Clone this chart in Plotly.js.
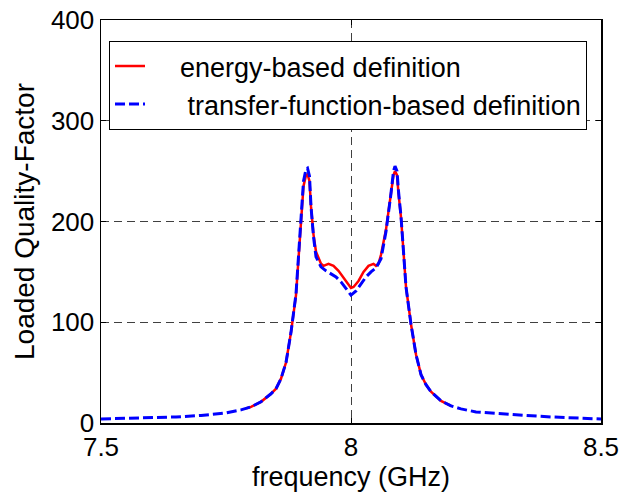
<!DOCTYPE html>
<html>
<head>
<meta charset="utf-8">
<script src="https://cdn.plot.ly/plotly-3.0.1.min.js"></script>
<style>html,body{margin:0;padding:0;background:#fff;}#chart{width:621px;height:494px;}</style>
</head>
<body>
<div id="chart"></div>
<script>
// Transfer-function-based definition (blue dashed)
const freqTF = [7.50, 7.55, 7.60, 7.65, 7.70, 7.75, 7.78, 7.80, 7.82, 7.84, 7.85, 7.86, 7.87, 7.88, 7.89, 7.895, 7.90, 7.905, 7.91, 7.913, 7.917, 7.92, 7.925, 7.93, 7.94, 7.95, 7.96, 7.97, 7.98, 7.99, 8.00, 8.01, 8.02, 8.03, 8.04, 8.05, 8.06, 8.07, 8.08, 8.085, 8.088, 8.092, 8.095, 8.10, 8.105, 8.11, 8.12, 8.13, 8.14, 8.15, 8.16, 8.17, 8.18, 8.20, 8.22, 8.25, 8.30, 8.35, 8.40, 8.45, 8.50];
const qTF    = [4, 4.5, 5, 6, 7.5, 10, 13, 16, 21, 29, 34, 44, 60, 90, 128, 165, 210, 240, 252, 253, 245, 215, 185, 165, 155, 151, 148, 145, 140, 133, 127, 131, 138, 145, 150, 154, 163, 190, 228, 250, 255, 250, 230, 205, 170, 135, 98, 68, 48, 38, 31, 26, 22, 17, 14, 11, 9, 7.5, 6, 5, 4];

// Energy-based definition (red solid)
const freqEn = [7.79, 7.80, 7.82, 7.84, 7.85, 7.86, 7.87, 7.88, 7.89, 7.895, 7.90, 7.905, 7.91, 7.913, 7.917, 7.92, 7.925, 7.93, 7.94, 7.945, 7.955, 7.965, 7.975, 7.985, 7.995, 8.00, 8.005, 8.015, 8.025, 8.035, 8.045, 8.05, 8.055, 8.06, 8.07, 8.08, 8.085, 8.088, 8.092, 8.095, 8.10, 8.105, 8.11, 8.12, 8.13, 8.14, 8.15, 8.16, 8.17, 8.18, 8.20];
const qEn    = [14.5, 16, 21, 29, 34, 44, 60, 90, 127, 163, 207, 235, 246, 247, 240, 215, 187, 170, 158, 156, 158, 156, 151, 144, 137, 134, 135, 141, 150, 156, 158, 156, 158, 167, 192, 226, 246, 250, 246, 228, 204, 170, 135, 98, 68, 48, 38, 31, 26, 22, 17];

const seriesNames = ['energy-based definition', ' transfer-function-based definition'];
const xTicks = [7.5, 8, 8.5];
const xTickText = ['7.5', '8', '8.5'];
const yTicks = [0, 100, 200, 300, 400];

const FONT = '"Liberation Sans", Arial, Helvetica, sans-serif';
const PAD = '\u00A0\u00A0\u00A0\u00A0';

const traces = [
  {x: freqEn, y: qEn, type: 'scatter', mode: 'lines', name: PAD + seriesNames[0],
   line: {color: '#ff0000', width: 2.5}},
  {x: freqTF, y: qTF, type: 'scatter', mode: 'lines', name: PAD + seriesNames[1],
   line: {color: '#0000ff', width: 3, dash: '10px,4px'}}
];

const axisCommon = {
  showline: true, linecolor: '#000', linewidth: 1.5, mirror: 'ticks',
  ticks: 'inside', ticklen: 5, tickcolor: '#000', tickwidth: 1,
  showgrid: true, gridcolor: '#404040', gridwidth: 1, griddash: '8px,5px',
  zeroline: false, tickfont: {family: FONT, size: 26, color: '#000'}
};

const layout = {
  width: 621, height: 494,
  margin: {l: 101, r: 20, t: 20, b: 71},
  paper_bgcolor: '#fff', plot_bgcolor: '#fff',
  font: {family: FONT, color: '#000'},
  showlegend: true,
  legend: {x: 0.016, y: 0.948, xanchor: 'left', yanchor: 'top',
    bgcolor: '#fff', bordercolor: '#000', borderwidth: 1,
    font: {family: FONT, size: 27, color: '#000'}, tracegroupgap: 0},
  xaxis: Object.assign({}, axisCommon, {
    range: [7.5, 8.5], tickvals: xTicks, ticktext: xTickText,
    title: {text: 'frequency (GHz)', font: {family: FONT, size: 27, color: '#000'}, standoff: 4}
  }),
  yaxis: Object.assign({}, axisCommon, {
    range: [0, 400], tickvals: yTicks,
    title: {text: 'Loaded Quality-Factor', font: {family: FONT, size: 28, color: '#000'}, standoff: 8}
  })
};

Plotly.newPlot('chart', traces, layout, {displayModeBar: false, staticPlot: true});
</script>
</body>
</html>
